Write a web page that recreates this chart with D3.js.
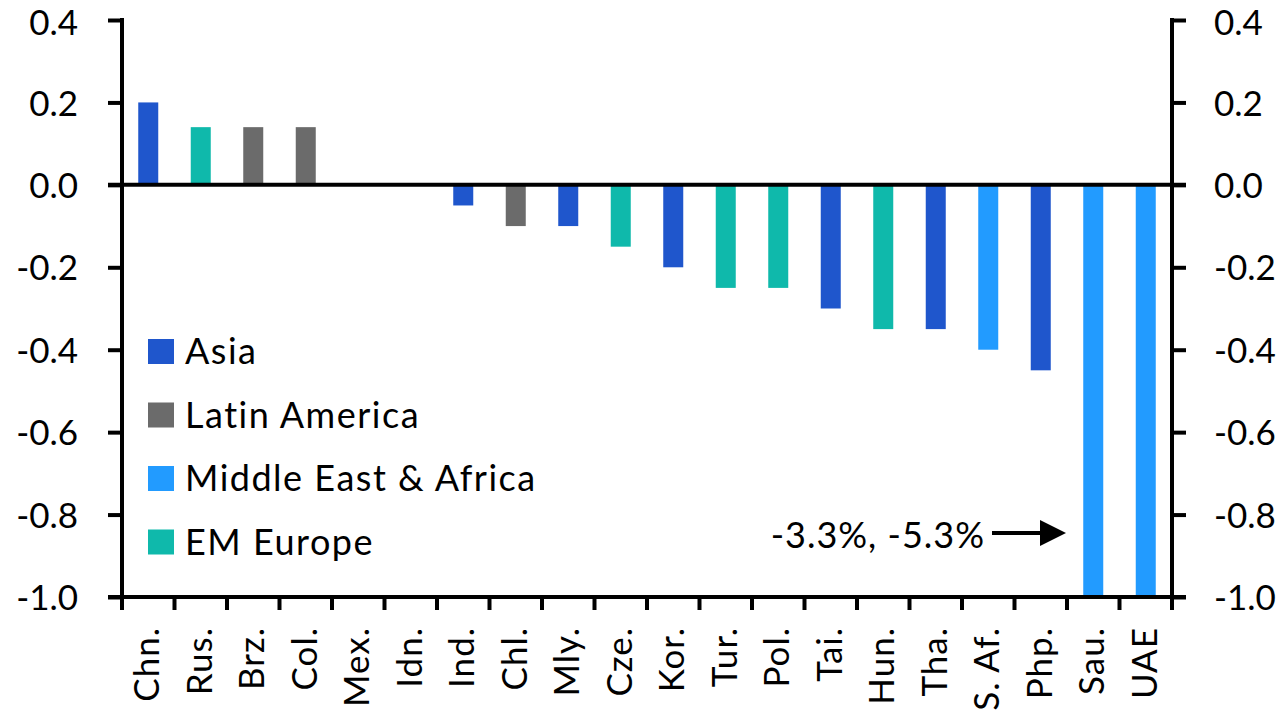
<!DOCTYPE html>
<html>
<head>
<meta charset="utf-8">
<script src="https://cdn.jsdelivr.net/npm/d3@7"></script>
<style>
  body { margin:0; background:#fff; }
  text { font-family: Lato, "Open Sans", sans-serif; font-weight:400; fill:#000; }
</style>
</head>
<body>
<svg id="chart" width="1288" height="711"></svg>
<script>
// data
const countries = ['Chn.','Rus.','Brz.','Col.','Mex.','Idn.','Ind.','Chl.','Mly.','Cze.',
                   'Kor.','Tur.','Pol.','Tai.','Hun.','Tha.','S. Af.','Php.','Sau.','UAE'];
const regions   = ['Asia','EM Europe','Latin America','Latin America','Latin America','Asia','Asia','Latin America','Asia','EM Europe',
                   'Asia','EM Europe','EM Europe','Asia','EM Europe','Asia','Middle East & Africa','Asia','Middle East & Africa','Middle East & Africa'];
const values    = [0.2, 0.14, 0.14, 0.14, 0, 0, -0.05, -0.1, -0.1, -0.15,
                   -0.2, -0.25, -0.25, -0.3, -0.35, -0.35, -0.4, -0.45, -3.3, -5.3];
const legendItems = ['Asia','Latin America','Middle East & Africa','EM Europe'];
const yTicks = [0.4, 0.2, 0.0, -0.2, -0.4, -0.6, -0.8, -1.0];
const noteText = '-3.3%, -5.3%';

const colors = {
  'Asia':'#1f56cc',
  'Latin America':'#6b6b6b',
  'Middle East & Africa':'#229bff',
  'EM Europe':'#0fb9ab'
};

const svg = d3.select('#chart');
const L = 122, R = 1172, T = 20, B = 597;

const xb = d3.scaleBand().domain(countries).range([L, R]);
const y = d3.scaleLinear().domain([-1.0, 0.4]).range([B, T]).clamp(true);

const data = countries.map((c,i)=>({c, r:regions[i], v:values[i]}));

// bars (the two big Gulf values run off the bottom, so the scale clamps them)
svg.append('g').selectAll('rect').data(data.filter(d=>d.v!==0)).join('rect')
  .attr('x', d=>xb(d.c) + xb.bandwidth()/2 - 10)
  .attr('width', 20)
  .attr('y', d=>y(Math.max(0,d.v)))
  .attr('height', d=>Math.abs(y(d.v)-y(0)))
  .attr('fill', d=>colors[d.r]);

// axes
const axisW = 4;
const fmt = d => d.toFixed(1);
const yl = svg.append('g').attr('transform',`translate(${L},0)`)
  .call(d3.axisLeft(y).tickValues(yTicks).tickFormat(fmt).tickSize(14).tickPadding(30));
const yr = svg.append('g').attr('transform',`translate(${R},0)`)
  .call(d3.axisRight(y).tickValues(yTicks).tickFormat(fmt).tickSize(14).tickPadding(30));
[yl, yr].forEach(g=>{
  g.select('.domain').attr('stroke','#000').attr('stroke-width',axisW).attr('d',`M0,${T-2}V${B+2}`);
  g.selectAll('.tick line').attr('stroke','#000').attr('stroke-width',axisW);
  g.selectAll('.tick text').style('font-size','35px').style('font-family',null)
    .attr('dy', d => d===0.4 ? '0.42em' : '0.36em');
});
yl.selectAll('.tick text').attr('x', -44);
yr.selectAll('.tick text').attr('x', 42);

// zero line
svg.append('line').attr('x1', L-14).attr('x2', R+14).attr('y1', y(0)).attr('y2', y(0))
  .attr('stroke','#000').attr('stroke-width',axisW);

// bottom axis
const xa = svg.append('g').attr('transform',`translate(0,${B})`)
  .call(d3.axisBottom(xb).tickSize(0).tickPadding(0));
xa.select('.domain').remove();
svg.append('line').attr('x1', L-14).attr('x2', R+14).attr('y1', B).attr('y2', B)
  .attr('stroke','#000').attr('stroke-width',axisW);
const bounds = countries.map(c=>xb(c)).concat([R]);
svg.append('g').selectAll('line').data(bounds).join('line')
  .attr('x1', d=>d).attr('x2', d=>d).attr('y1', B).attr('y2', B+13)
  .attr('stroke','#000').attr('stroke-width',axisW);
xa.selectAll('.tick text')
  .attr('transform','rotate(-90)')
  .attr('text-anchor','end')
  .attr('x', -30).attr('y', 0).attr('dy','0.32em')
  .style('font-size','35px').style('font-family',null)
  .style('letter-spacing','1px');

// legend
const lg = svg.append('g').attr('transform','translate(148,339)');
legendItems.forEach((k,i)=>{
  const g = lg.append('g').attr('transform',`translate(0,${i*63.5})`);
  g.append('rect').attr('width',26).attr('height',25).attr('fill',colors[k]);
  g.append('text').attr('x',37).attr('y',25).style('font-size','36px')
    .style('letter-spacing','1.5px').text(k);
});

// annotation
svg.append('text').attr('x', 985).attr('y', 548).attr('text-anchor','end')
  .style('font-size','36px').style('letter-spacing','1px').text(noteText);
svg.append('line').attr('x1', 992).attr('x2', 1042).attr('y1', 533).attr('y2', 533)
  .attr('stroke','#000').attr('stroke-width',4);
svg.append('path').attr('d','M1040,520L1066,533L1040,546Z').attr('fill','#000');
</script>
</body>
</html>
